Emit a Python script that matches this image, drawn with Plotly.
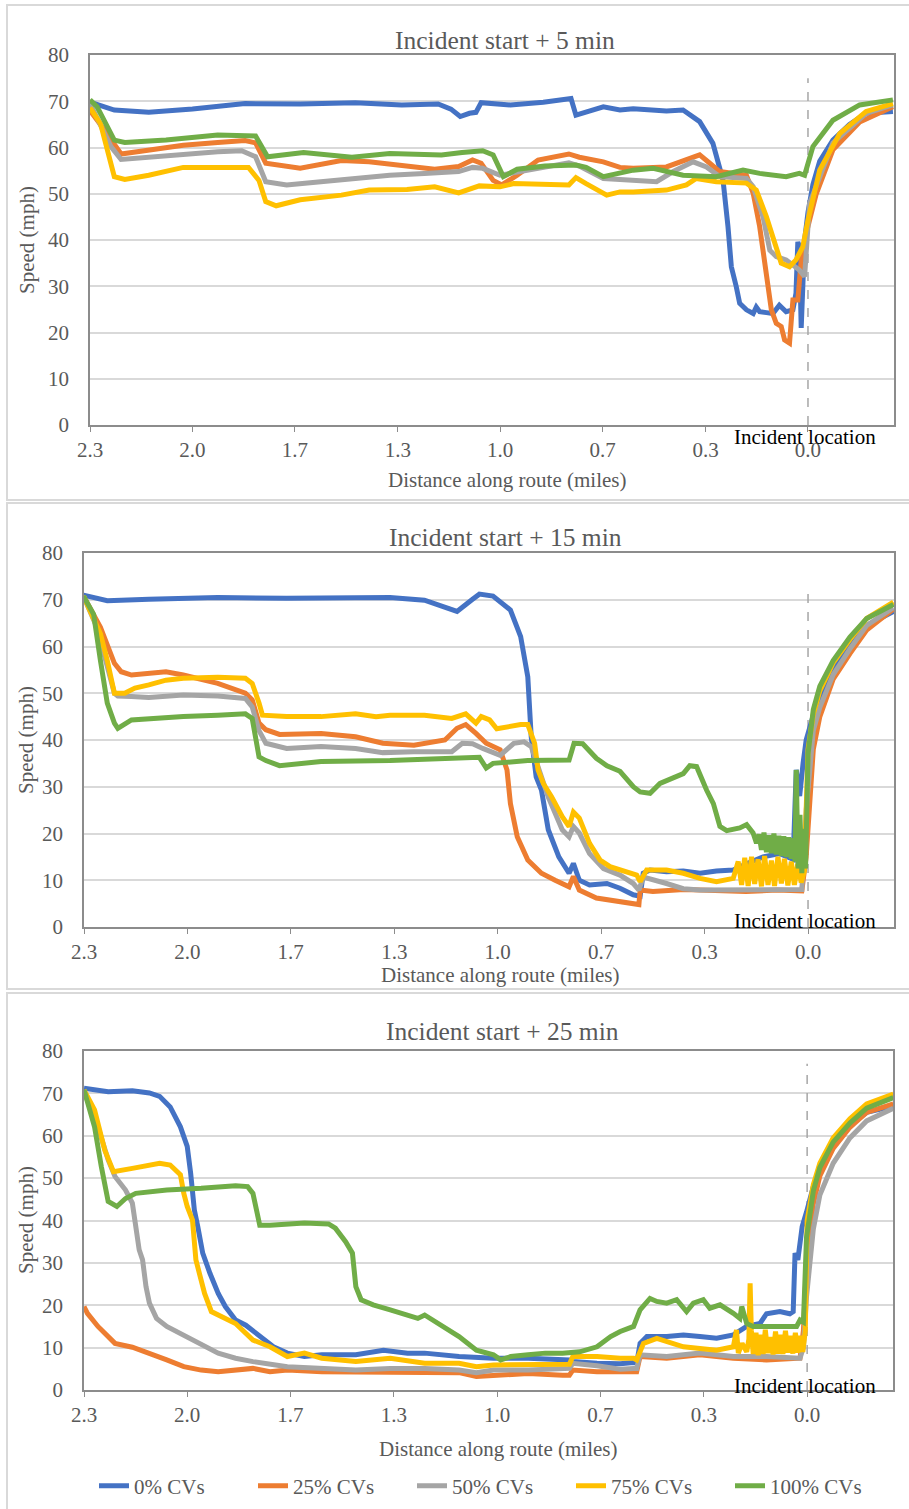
import plotly.graph_objects as go

W, H = 909, 1509
FONT = "Liberation Serif"
GREY_TXT = "#595959"

SERIES = ["0% CVs", "25% CVs", "50% CVs", "75% CVs", "100% CVs"]
COLORS = ["#4472C4", "#ED7D31", "#A5A5A5", "#FFC000", "#70AD47"]
PANEL_TITLES = ["Incident start + 5 min", "Incident start + 15 min", "Incident start + 25 min"]
X_TITLE = "Distance along route (miles)"
Y_TITLE = "Speed (mph)"
INCIDENT_LABEL = "Incident location"
X_TICK_VALS = [2.333, 2.0, 1.667, 1.333, 1.0, 0.667, 0.333, 0.0]
X_TICK_TEXT = ["2.3", "2.0", "1.7", "1.3", "1.0", "0.7", "0.3", "0.0"]
Y_TICK_VALS = [0, 10, 20, 30, 40, 50, 60, 70, 80]
INCIDENT_X = 0.0
INCIDENT_LINE_TOP = [75, 73, 77]

# ---------------- Panel 1 : incident start + 5 min ----------------
P5_D0 = [2.333, 2.254, 2.142, 2.0, 1.829, 1.65, 1.471, 1.32, 1.202, 1.16, 1.13, 1.10, 1.079, 1.062, 0.967, 0.86, 0.77, 0.754, 0.665, 0.611,
         0.568, 0.46, 0.406, 0.352, 0.309, 0.276, 0.26, 0.249, 0.233, 0.222, 0.2, 0.178, 0.168, 0.157, 0.135, 0.114, 0.093, 0.071, 0.049, 0.039,
         0.033, 0.028, 0.022, 0.017, 0.011, 0.0, -0.016, -0.038, -0.081, -0.135, -0.189, -0.276]
P5_V0 = [69.8, 68.1, 67.6, 68.3, 69.5, 69.4, 69.7, 69.2, 69.4, 68.3, 66.7, 67.4, 67.6, 69.7, 69.2, 69.8, 70.6, 67.0, 68.8, 68.1,
         68.4, 67.9, 68.1, 65.6, 60.9, 52.9, 42.9, 34.2, 29.9, 26.3, 24.9, 24.1, 25.5, 24.5, 24.3, 24.1, 25.9, 24.5, 24.9, 28.5,
         39.6, 38.5, 21.0, 30.0, 40.0, 46.0, 52.0, 57.0, 61.6, 65.0, 67.4, 67.8]
P5_D1 = [2.333, 2.299, 2.232, 2.142, 2.030, 1.918, 1.829, 1.795, 1.762, 1.650, 1.516, 1.426, 1.314, 1.213, 1.135, 1.090, 1.062, 1.023, 0.995, 0.945,
         0.877, 0.777, 0.743, 0.665, 0.611, 0.568, 0.46, 0.373, 0.352, 0.319, 0.287, 0.2, 0.178, 0.157, 0.135, 0.119, 0.103, 0.087, 0.076, 0.06,
         0.049, 0.033, 0.022, 0.006, -0.027, -0.081, -0.168, -0.276]
P5_V1 = [68.0, 65.0, 58.6, 59.5, 60.5, 61.1, 61.5, 61.0, 56.6, 55.5, 57.2, 56.9, 56.0, 55.3, 55.9, 57.3, 56.6, 52.9, 51.9, 54.0,
         57.3, 58.6, 57.9, 56.9, 55.7, 55.5, 55.8, 58.0, 58.4, 56.6, 54.8, 54.0, 50.1, 42.9, 32.1, 24.9, 22.0, 21.3, 18.4, 17.7,
         27.0, 27.0, 35.7, 41.4, 50.0, 59.5, 65.5, 68.8]
P5_D2 = [2.333, 2.265, 2.232, 2.142, 2.030, 1.918, 1.840, 1.795, 1.762, 1.694, 1.583, 1.471, 1.359, 1.247, 1.135, 1.090, 1.057, 1.001, 0.911, 0.777,
         0.743, 0.665, 0.611, 0.568, 0.492, 0.438, 0.373, 0.330, 0.287, 0.2, 0.178, 0.146, 0.124, 0.103, 0.071, 0.028, 0.011, -0.005, -0.081, -0.189,
         -0.276]
P5_V2 = [69.5, 60.2, 57.4, 57.9, 58.4, 59.1, 59.3, 58.0, 52.6, 51.9, 52.6, 53.3, 54.0, 54.4, 54.8, 55.7, 55.5, 54.0, 55.1, 56.7,
         56.0, 53.3, 53.1, 52.9, 52.6, 54.8, 56.9, 55.8, 53.7, 53.3, 51.5, 45.0, 37.8, 36.4, 35.7, 33.5, 32.1, 47.9, 61.0, 67.4,
         69.2]
P5_D3 = [2.333, 2.299, 2.254, 2.220, 2.142, 2.030, 1.918, 1.818, 1.784, 1.762, 1.728, 1.650, 1.516, 1.426, 1.303, 1.213, 1.135, 1.068, 1.001, 0.956,
         0.777, 0.754, 0.721, 0.654, 0.611, 0.568, 0.46, 0.395, 0.363, 0.298, 0.2, 0.168, 0.135, 0.114, 0.087, 0.06, 0.039, 0.017, 0.0, -0.038,
         -0.103, -0.189, -0.276]
P5_V3 = [68.6, 65.2, 53.7, 53.1, 54.0, 55.7, 55.7, 55.7, 52.9, 48.3, 47.4, 48.7, 49.7, 50.8, 50.9, 51.5, 50.2, 51.7, 51.5, 52.2,
         51.9, 53.5, 52.2, 49.7, 50.4, 50.4, 50.8, 51.9, 53.3, 52.6, 52.3, 50.8, 45.0, 40.7, 35.0, 34.2, 35.7, 38.5, 44.3, 55.1,
         63.0, 67.8, 69.5]
P5_D4 = [2.333, 2.310, 2.254, 2.220, 2.086, 1.918, 1.795, 1.756, 1.639, 1.482, 1.359, 1.191, 1.124, 1.057, 1.023, 0.990, 0.945, 0.855, 0.754, 0.721,
         0.665, 0.611, 0.568, 0.503, 0.406, 0.298, 0.211, 0.157, 0.071, 0.028, 0.011, -0.016, -0.081, -0.168, -0.276]
P5_V4 = [70.3, 68.8, 61.6, 61.1, 61.6, 62.7, 62.5, 58.0, 58.9, 57.9, 58.7, 58.4, 58.9, 59.3, 58.4, 53.7, 55.3, 56.0, 56.2, 55.7,
         53.7, 54.4, 55.1, 55.5, 54.0, 53.7, 55.1, 54.4, 53.7, 54.4, 54.0, 60.2, 65.9, 69.2, 70.3]

# ---------------- Panel 2 : incident start + 15 min ----------------
P15_D0 = [2.335, 2.258, 2.124, 1.902, 1.680, 1.347, 1.236, 1.170, 1.131, 1.081, 1.059, 1.015, 0.959, 0.926, 0.903, 0.892, 0.876, 0.859, 0.837, 0.803,
          0.770, 0.756, 0.737, 0.704, 0.648, 0.606, 0.563, 0.541, 0.531, 0.509, 0.456, 0.402, 0.348, 0.295, 0.241, 0.198, 0.145, 0.091, 0.048, 0.038,
          0.027, 0.016, 0.006, -0.028, -0.082, -0.135, -0.189, -0.275]
P15_V0 = [71.0, 69.8, 70.1, 70.5, 70.3, 70.5, 69.9, 68.5, 67.5, 70.1, 71.2, 70.8, 67.8, 62.1, 53.5, 40.7, 32.1, 29.3, 20.8, 15.0,
          11.5, 13.6, 10.0, 9.0, 9.3, 8.3, 6.9, 6.6, 11.5, 12.2, 11.8, 12.0, 11.5, 12.0, 12.2, 13.5, 15.0, 15.7, 14.5, 33.6,
          28.0, 35.0, 40.0, 47.8, 55.0, 60.0, 64.5, 67.5]
P15_D1 = [2.335, 2.280, 2.235, 2.213, 2.180, 2.124, 2.069, 2.013, 1.902, 1.813, 1.791, 1.769, 1.747, 1.703, 1.569, 1.458, 1.370, 1.270, 1.170, 1.131,
          1.103, 1.070, 1.037, 0.992, 0.970, 0.959, 0.937, 0.903, 0.859, 0.815, 0.770, 0.756, 0.737, 0.682, 0.606, 0.563, 0.545, 0.541, 0.50, 0.40,
          0.30, 0.20, 0.10, 0.02, 0.006, -0.017, -0.038, -0.081, -0.135, -0.189, -0.275]
P15_V1 = [70.8, 64.1, 56.4, 54.6, 53.9, 54.3, 54.6, 53.9, 52.1, 50.0, 48.6, 43.6, 42.2, 41.2, 41.4, 40.7, 39.3, 38.9, 40.0, 42.5,
          43.3, 41.4, 39.3, 37.9, 33.6, 26.4, 19.3, 14.3, 11.5, 10.0, 8.6, 10.8, 7.9, 6.2, 5.5, 5.0, 4.8, 7.9, 7.6, 8.0,
          7.7, 7.6, 7.9, 7.7, 15.0, 38.0, 45.0, 53.0, 58.5, 63.5, 68.0]
P15_D2 = [2.335, 2.291, 2.235, 2.224, 2.180, 2.124, 2.013, 1.902, 1.813, 1.791, 1.769, 1.747, 1.680, 1.569, 1.458, 1.370, 1.270, 1.148, 1.114, 1.081,
          1.048, 0.992, 0.948, 0.915, 0.892, 0.859, 0.837, 0.792, 0.770, 0.756, 0.737, 0.704, 0.659, 0.606, 0.563, 0.545, 0.531, 0.456, 0.402, 0.348,
          0.20, 0.10, 0.02, 0.006, -0.017, -0.038, -0.081, -0.135, -0.189, -0.275]
P15_V2 = [70.8, 64.0, 50.0, 49.4, 49.3, 49.1, 49.6, 49.4, 48.9, 47.1, 42.0, 39.3, 38.2, 38.6, 38.2, 37.3, 37.5, 37.5, 39.3, 39.2,
          38.2, 36.7, 39.3, 39.6, 38.6, 32.1, 27.8, 20.8, 19.3, 21.5, 20.1, 15.7, 12.5, 11.1, 9.3, 7.9, 10.7, 9.3, 8.2, 7.9,
          8.0, 7.9, 8.0, 25.0, 42.0, 47.0, 54.0, 59.5, 64.5, 68.3]
P15_D3 = [2.335, 2.280, 2.258, 2.235, 2.202, 2.169, 2.124, 2.069, 2.013, 1.902, 1.813, 1.791, 1.769, 1.758, 1.680, 1.569, 1.458, 1.392, 1.347, 1.236,
          1.148, 1.103, 1.070, 1.053, 1.026, 1.003, 0.926, 0.903, 0.881, 0.870, 0.853, 0.826, 0.792, 0.770, 0.756, 0.737, 0.704, 0.670, 0.638, 0.584,
          0.552, 0.541, 0.520, 0.456, 0.402, 0.348, 0.295, 0.241,
          0.225, 0.214, 0.204, 0.193, 0.182, 0.172, 0.161, 0.150, 0.140, 0.129, 0.118, 0.108, 0.097, 0.086, 0.076, 0.065, 0.054, 0.044, 0.033, 0.022,
          0.012, 0.0, -0.017, -0.038, -0.081, -0.135, -0.189, -0.275]
P15_V3 = [70.8, 62.7, 57.0, 50.0, 50.0, 51.1, 51.8, 52.8, 53.2, 53.4, 53.2, 52.1, 47.9, 45.3, 45.0, 45.0, 45.6, 45.0, 45.3, 45.3,
          44.6, 45.6, 43.6, 45.0, 44.3, 42.4, 43.3, 43.3, 39.3, 33.6, 30.7, 27.8, 23.6, 21.5, 24.6, 23.3, 17.9, 14.3, 12.9, 11.9,
          11.1, 9.7, 12.2, 12.2, 11.5, 10.4, 9.7, 10.4,
          14.0, 9.0, 14.8, 8.8, 15.0, 9.2, 14.5, 8.7, 15.2, 9.0, 14.2, 8.8, 15.0, 9.3, 14.6, 8.9, 14.0, 9.0, 13.5, 9.5,
          12.0, 38.0, 45.5, 50.5, 56.5, 61.5, 66.0, 69.5]
P15_D4 = [2.335, 2.302, 2.280, 2.258, 2.235, 2.224, 2.180, 2.124, 2.013, 1.902, 1.813, 1.791, 1.769, 1.747, 1.703, 1.569, 1.458, 1.347, 1.236, 1.125,
          1.059, 1.037, 1.015, 0.903, 0.770, 0.754, 0.726, 0.682, 0.648, 0.606, 0.563, 0.541, 0.509, 0.477, 0.402, 0.381, 0.359, 0.327, 0.305, 0.284,
          0.262, 0.220, 0.198, 0.177, 0.166,
          0.158, 0.150, 0.142, 0.134, 0.126, 0.118, 0.110, 0.102, 0.094, 0.086, 0.078, 0.070, 0.062, 0.054, 0.048, 0.042, 0.038, 0.032, 0.026, 0.020,
          0.014, 0.008, 0.0, -0.017, -0.038, -0.081, -0.135, -0.189, -0.275]
P15_V4 = [70.8, 66.9, 57.0, 47.9, 43.6, 42.5, 44.3, 44.6, 45.0, 45.3, 45.6, 44.6, 36.4, 35.6, 34.5, 35.4, 35.4, 35.6, 35.9, 36.1,
          36.3, 34.0, 35.0, 35.6, 35.7, 39.3, 39.2, 36.1, 34.5, 33.3, 30.0, 28.9, 28.6, 30.7, 32.8, 34.5, 34.3, 29.3, 26.4, 21.5,
          20.6, 21.2, 21.9, 20.1, 17.9,
          19.8, 16.5, 20.2, 16.0, 19.6, 15.8, 20.0, 15.5, 19.5, 15.2, 19.4, 15.0, 19.2, 14.6, 19.0, 14.0, 33.6, 12.5, 24.0, 11.5,
          21.0, 12.5, 37.0, 46.5, 51.5, 57.0, 62.0, 66.0, 69.0]

# ---------------- Panel 3 : incident start + 25 min ----------------
P25_D0 = [2.333, 2.255, 2.177, 2.122, 2.089, 2.055, 2.022, 2.000, 1.989, 1.977, 1.966, 1.950, 1.927, 1.900, 1.877, 1.844, 1.811, 1.766, 1.722, 1.677,
          1.622, 1.566, 1.456, 1.367, 1.289, 1.234, 1.123, 1.012, 0.900, 0.767, 0.756, 0.678, 0.603, 0.560, 0.550, 0.539, 0.517, 0.453, 0.399, 0.346,
          0.292, 0.238, 0.195, 0.152, 0.131, 0.088, 0.056, 0.045, 0.039, 0.030, 0.016, 0.002, -0.020, -0.041, -0.084, -0.138, -0.192, -0.278]
P25_V0 = [71.2, 70.4, 70.6, 70.1, 69.3, 66.8, 62.1, 57.5, 51.2, 42.5, 38.6, 32.3, 27.6, 22.8, 19.7, 16.5, 15.3, 12.6, 10.2, 8.7,
          7.9, 8.3, 8.3, 9.4, 8.7, 8.7, 7.9, 7.5, 7.5, 7.1, 6.7, 6.3, 6.2, 6.5, 6.3, 11.0, 12.6, 12.6, 13.0, 12.6,
          12.2, 13.0, 15.0, 15.7, 18.0, 18.5, 18.0, 18.5, 32.3, 30.7, 38.6, 42.0, 48.0, 52.5, 58.0, 62.5, 65.5, 67.0]
P25_D1 = [2.333, 2.322, 2.288, 2.255, 2.233, 2.177, 2.122, 2.066, 2.011, 1.955, 1.900, 1.788, 1.733, 1.677, 1.566, 1.456, 1.345, 1.234, 1.123, 1.067,
          1.012, 0.900, 0.789, 0.767, 0.756, 0.678, 0.603, 0.560, 0.550, 0.539, 0.453, 0.346, 0.238, 0.131, 0.023, 0.012, 0.002, -0.020, -0.041, -0.084,
          -0.138, -0.192, -0.278]
P25_V1 = [19.7, 18.1, 15.0, 12.6, 11.0, 10.1, 8.7, 7.1, 5.5, 4.7, 4.3, 5.1, 4.3, 4.7, 4.3, 4.3, 4.3, 4.3, 4.1, 3.2,
          3.5, 3.9, 3.5, 3.5, 4.7, 4.3, 4.3, 4.5, 4.3, 7.9, 7.5, 8.3, 7.5, 7.1, 7.5, 14.0, 30.0, 44.0, 50.5, 57.0,
          62.0, 65.5, 67.5]
P25_D2 = [2.333, 2.288, 2.255, 2.233, 2.199, 2.177, 2.166, 2.155, 2.144, 2.133, 2.122, 2.099, 2.066, 2.011, 1.955, 1.900, 1.844, 1.788, 1.677, 1.566,
          1.456, 1.345, 1.234, 1.123, 1.067, 1.012, 0.900, 0.767, 0.756, 0.678, 0.603, 0.560, 0.550, 0.539, 0.453, 0.346, 0.238, 0.131, 0.023, 0.012,
          0.002, -0.020, -0.041, -0.084, -0.138, -0.192, -0.278]
P25_V2 = [70.4, 62.1, 54.3, 50.4, 47.2, 44.1, 38.6, 33.1, 30.7, 24.4, 20.5, 16.9, 15.0, 13.0, 11.0, 8.7, 7.5, 6.7, 5.5, 5.1,
          4.7, 5.1, 5.1, 4.7, 4.1, 4.7, 4.7, 5.1, 6.3, 5.7, 4.9, 5.1, 5.1, 8.3, 7.9, 8.7, 7.9, 7.9, 7.5, 10.0,
          22.0, 38.0, 46.0, 53.5, 59.5, 63.5, 66.5]
P25_D3 = [2.333, 2.299, 2.266, 2.238, 2.177, 2.122, 2.089, 2.055, 2.022, 2.011, 2.000, 1.983, 1.972, 1.961, 1.944, 1.922, 1.877, 1.844, 1.788, 1.733,
          1.677, 1.622, 1.566, 1.456, 1.345, 1.234, 1.123, 1.067, 1.012, 0.900, 0.767, 0.756, 0.678, 0.603, 0.560, 0.550, 0.528, 0.485, 0.453, 0.399,
          0.346, 0.292,
          0.238, 0.228, 0.222, 0.210, 0.195, 0.188, 0.184, 0.180, 0.174, 0.165, 0.158, 0.150, 0.142, 0.135, 0.127, 0.118, 0.110, 0.102, 0.094, 0.086,
          0.078, 0.070, 0.062, 0.054, 0.046, 0.038, 0.030, 0.022, 0.014, 0.006,
          0.0, -0.020, -0.041, -0.084, -0.138, -0.192, -0.278]
P25_V3 = [70.8, 66.1, 56.6, 51.5, 52.3, 53.1, 53.5, 53.1, 50.8, 46.4, 43.3, 40.1, 30.7, 27.6, 22.8, 18.5, 16.9, 15.7, 11.8, 10.2,
          7.9, 8.7, 7.5, 6.7, 7.5, 6.3, 6.3, 5.5, 5.9, 6.1, 6.1, 7.9, 7.9, 7.5, 7.5, 7.1, 11.0, 12.2, 11.4, 10.2,
          9.8, 9.4,
          10.2, 14.2, 8.7, 11.0, 9.0, 12.0, 25.2, 14.0, 8.5, 13.5, 8.2, 13.0, 8.5, 14.2, 8.7, 12.5, 8.4, 13.8, 8.6, 13.0,
          8.5, 14.0, 8.8, 12.8, 8.6, 13.5, 8.8, 12.8, 9.0, 14.0,
          40.0, 48.5, 53.5, 59.5, 64.0, 67.5, 69.8]
P25_D4 = [2.333, 2.299, 2.277, 2.255, 2.227, 2.199, 2.166, 2.066, 1.955, 1.844, 1.805, 1.788, 1.766, 1.733, 1.622, 1.544, 1.522, 1.489, 1.467, 1.456,
          1.439, 1.400, 1.345, 1.289, 1.256, 1.234, 1.178, 1.123, 1.067, 1.012, 0.989, 0.956, 0.900, 0.845, 0.789, 0.734, 0.678, 0.634, 0.603, 0.560,
          0.539, 0.507, 0.485, 0.453, 0.421, 0.389, 0.367, 0.335, 0.314, 0.281, 0.238, 0.217, 0.211, 0.195, 0.174, 0.131, 0.066, 0.034, 0.023, 0.012,
          0.002, -0.020, -0.041, -0.084, -0.138, -0.192, -0.278]
P25_V4 = [70.8, 62.1, 52.7, 44.5, 43.3, 45.2, 46.4, 47.2, 47.6, 48.2, 48.0, 46.4, 38.9, 38.9, 39.4, 39.2, 38.2, 35.0, 32.3, 24.4,
          21.3, 20.1, 18.9, 17.7, 16.9, 17.7, 15.0, 12.6, 9.4, 8.3, 7.1, 7.9, 8.3, 8.7, 8.7, 9.0, 10.2, 12.6, 13.8, 15.0,
          18.9, 21.6, 20.9, 20.5, 21.3, 18.5, 20.5, 21.3, 19.3, 20.1, 18.1, 16.9, 19.7, 15.7, 15.0, 15.0, 15.0, 15.0, 16.5, 16.0,
          36.0, 47.0, 52.5, 58.5, 63.0, 66.5, 69.0]

PANEL_DATA = [
    [(P5_D0, P5_V0), (P5_D1, P5_V1), (P5_D2, P5_V2), (P5_D3, P5_V3), (P5_D4, P5_V4)],
    [(P15_D0, P15_V0), (P15_D1, P15_V1), (P15_D2, P15_V2), (P15_D3, P15_V3), (P15_D4, P15_V4)],
    [(P25_D0, P25_V0), (P25_D1, P25_V1), (P25_D2, P25_V2), (P25_D3, P25_V3), (P25_D4, P25_V4)],
]

# ---------------- layout geometry (pixels) ----------------
PANEL_BOX = [(7, 5, 500), (7, 503, 989), (7, 993, 1515)]        # left, top, bottom of outer frames
PLOT_AREA = [(90, 894, 55, 425), (84, 894, 553, 927), (84, 893, 1051, 1390)]  # l, r, top, bottom
X_RANGES = [[2.333, -0.2795], [2.333, -0.277], [2.333, -0.277]]
TITLE_POS = [(505, 40), (505, 537), (502, 1031)]
XTITLE_POS = [(507, 480), (500, 975), (499, 1449)]
YTITLE_POS = [(27, 240), (26, 740), (26, 1220)]
INC_LABEL_POS = [(805, 437), (805, 921), (805, 1386)]

TITLE_SIZE = 25.5
LABEL_SIZE = 21


def fx(p):
    return p / W


def fy(p):
    return 1 - p / H


fig = go.Figure()
shapes = []
annotations = []
layout_axes = {}

for i in range(3):
    k = "" if i == 0 else str(i + 1)
    l, r, t, b = PLOT_AREA[i]
    for j, (d, v) in enumerate(PANEL_DATA[i]):
        fig.add_trace(go.Scatter(
            x=d, y=v, mode="lines", name=SERIES[j],
            line=dict(color=COLORS[j], width=5),
            xaxis="x" + k, yaxis="y" + k,
            showlegend=(i == 0), legendgroup=SERIES[j],
        ))
    layout_axes["xaxis" + k] = dict(
        domain=[fx(l), fx(r)], range=X_RANGES[i], anchor="y" + k,
        tickmode="array", tickvals=X_TICK_VALS, ticktext=X_TICK_TEXT,
        showgrid=False, zeroline=False, showline=True, mirror=True,
        linecolor="#8c8c8c", linewidth=1.5, ticks="outside", ticklen=5,
        tickcolor="#8c8c8c", tickwidth=1.2, ticklabelstandoff=0,
        tickfont=dict(family=FONT, size=LABEL_SIZE, color=GREY_TXT), fixedrange=True,
        automargin=False,
    )
    layout_axes["yaxis" + k] = dict(
        domain=[fy(b), fy(t)], range=[0, 80], anchor="x" + k,
        tickmode="array", tickvals=Y_TICK_VALS,
        showgrid=True, gridcolor="#d9d9d9", gridwidth=1.5, zeroline=False,
        showline=True, mirror=True, linecolor="#8c8c8c", linewidth=1.5,
        ticks="", ticklabelstandoff=15,
        tickfont=dict(family=FONT, size=LABEL_SIZE, color=GREY_TXT), fixedrange=True,
        automargin=False,
    )
    # dashed incident marker
    shapes.append(dict(type="line", xref="x" + k, yref="y" + k,
                       x0=INCIDENT_X, x1=INCIDENT_X, y0=0, y1=INCIDENT_LINE_TOP[i],
                       line=dict(color="#a6a6a6", width=1.5, dash="dash"), layer="between"))
    # outer frame
    bl, bt, bb = PANEL_BOX[i]
    shapes.append(dict(type="rect", xref="paper", yref="paper",
                       x0=fx(bl), x1=fx(912), y0=fy(bb), y1=fy(bt),
                       line=dict(color="#d9d9d9", width=2), layer="below"))
    annotations += [
        dict(text=PANEL_TITLES[i], x=fx(TITLE_POS[i][0]), y=fy(TITLE_POS[i][1]), xref="paper", yref="paper",
             showarrow=False, xanchor="center", yanchor="middle",
             font=dict(family=FONT, size=TITLE_SIZE, color=GREY_TXT)),
        dict(text=X_TITLE, x=fx(XTITLE_POS[i][0]), y=fy(XTITLE_POS[i][1]), xref="paper", yref="paper",
             showarrow=False, xanchor="center", yanchor="middle",
             font=dict(family=FONT, size=LABEL_SIZE, color=GREY_TXT)),
        dict(text=Y_TITLE, x=fx(YTITLE_POS[i][0]), y=fy(YTITLE_POS[i][1]), xref="paper", yref="paper",
             showarrow=False, xanchor="center", yanchor="middle", textangle=-90,
             font=dict(family=FONT, size=LABEL_SIZE, color=GREY_TXT)),
        dict(text=INCIDENT_LABEL, x=fx(INC_LABEL_POS[i][0]), y=fy(INC_LABEL_POS[i][1]), xref="paper", yref="paper",
             showarrow=False, xanchor="center", yanchor="middle",
             font=dict(family=FONT, size=LABEL_SIZE, color="#000000")),
    ]

fig.update_layout(
    width=W, height=H, autosize=False,
    margin=dict(l=0, r=0, t=0, b=0, pad=0),
    paper_bgcolor="white", plot_bgcolor="white",
    font=dict(family=FONT, size=LABEL_SIZE, color=GREY_TXT),
    shapes=shapes, annotations=annotations,
    legend=dict(orientation="h", x=fx(94), xanchor="left", y=fy(1486), yanchor="middle",
                font=dict(family=FONT, size=LABEL_SIZE, color=GREY_TXT),
                entrywidth=114, entrywidthmode="pixels", bgcolor="rgba(0,0,0,0)",
                itemwidth=30, tracegroupgap=0),
    showlegend=True,
    **layout_axes,
)

fig.write_html(
    "out.html", include_plotlyjs=True,
    post_script="document.body.style.margin='0';document.body.style.padding='0';document.body.style.overflow='hidden';",
)
